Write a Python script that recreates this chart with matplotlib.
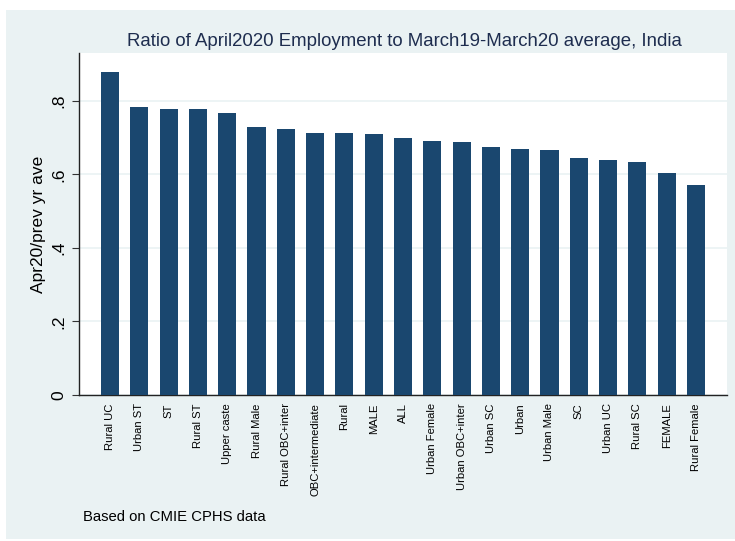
import matplotlib
matplotlib.use("Agg")
import matplotlib.pyplot as plt
from matplotlib.patches import Rectangle

categories = ["Rural UC", "Urban ST", "ST", "Rural ST", "Upper caste", "Rural Male",
              "Rural OBC+inter", "OBC+intermediate", "Rural", "MALE", "ALL",
              "Urban Female", "Urban OBC+inter", "Urban SC", "Urban", "Urban Male",
              "SC", "Urban UC", "Rural SC", "FEMALE", "Rural Female"]
values = [0.879, 0.784, 0.778, 0.778, 0.767, 0.729, 0.724, 0.713, 0.713, 0.710, 0.699,
          0.691, 0.688, 0.675, 0.669, 0.667, 0.645, 0.639, 0.634, 0.604, 0.571]
yticks = [0, 0.2, 0.4, 0.6, 0.8]
ytick_labels = ["0", ".2", ".4", ".6", ".8"]

W, H = 735, 541
plt.rcParams['font.family'] = ['Liberation Sans', 'DejaVu Sans']
fig = plt.figure(figsize=(W / 100, H / 100), dpi=100)
fig.patch.set_facecolor("white")
bg = "#eaf2f3"
fig.patches.append(Rectangle((6 / W, 2 / H), 1 - 6 / W, (539 - 10) / H,
                             transform=fig.transFigure, facecolor=bg, edgecolor="none", zorder=-5))

x0, x1, y0, y1 = 79, 727, 53, 395
ax = fig.add_axes([x0 / W, 1 - y1 / H, (x1 - x0) / W, (y1 - y0) / H])
ax.set_zorder(2)
ax.set_facecolor("white")
pos = list(range(len(categories)))
ax.bar(pos, values, width=0.62, color="#1a476f", zorder=3)
ax.set_xlim(-1.06, len(categories) - 1 + 1.06)
ax.set_ylim(0, 0.93)
ax.set_yticks(yticks)
ax.set_yticklabels(ytick_labels, rotation=90, va="center", fontsize=12.5)
ax.tick_params(axis="y", length=5, width=0.8, color="#333333", pad=4)
ax.set_xticks(pos)
ax.set_xticklabels(categories, rotation=90, fontsize=8.1, va="top", ha="center")
ax.tick_params(axis="x", length=0, pad=6)
ax.grid(axis="y", color=bg, linewidth=1.2, zorder=0)
ax.set_axisbelow(True)
for s in ["top", "right"]:
    ax.spines[s].set_visible(False)
for s in ["left", "bottom"]:
    ax.spines[s].set_color("#222222")
    ax.spines[s].set_linewidth(1.0)
ax.set_ylabel("Apr20/prev yr ave", fontsize=12.5, labelpad=4)

fig.text(404 / W, 1 - 41 / H, "Ratio of April2020 Employment to March19-March20 average, India",
         ha="center", va="center", fontsize=13.4, color="#1e2d4f")
fig.text(83 / W, 1 - 517 / H, "Based on CMIE CPHS data", ha="left", va="center", fontsize=10.7,
         color="black")

fig.savefig("out.png", dpi=100, facecolor=fig.get_facecolor())
